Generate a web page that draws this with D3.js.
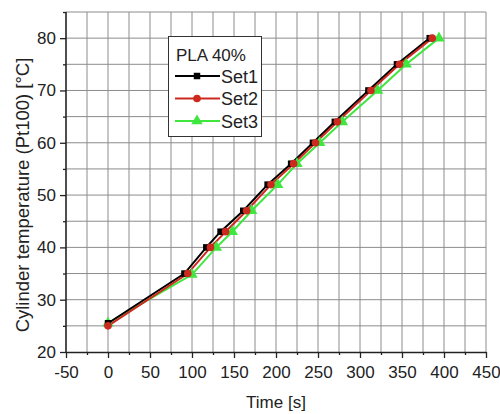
<!DOCTYPE html>
<html><head><meta charset="utf-8">
<script src="https://cdn.jsdelivr.net/npm/d3@7/dist/d3.min.js"></script>
<style>html,body{margin:0;padding:0;background:#fff;}svg{display:block;font-family:"Liberation Sans",Arial,sans-serif;}</style>
</head><body><div id="chart"></div>
<script>
const set1Time = [0, 91, 117, 134, 161, 190, 218, 244, 270, 310, 344, 383];
const set1Temp = [25.5, 35, 40, 43, 47, 52, 56, 60, 64, 70, 75, 80];
const set2Time = [0, 95, 122, 140, 165, 194, 221, 247, 273, 313, 347, 386];
const set2Temp = [25, 35, 40, 43, 47, 52, 56, 60, 64, 70, 75, 80];
const set3Time = [0, 100, 129, 148, 171, 202, 225, 252, 279, 321, 355, 394];
const set3Temp = [25.5, 34.8, 40, 43, 47, 52, 56, 60, 64, 70, 75, 80];
const xTicks = [-50, 0, 50, 100, 150, 200, 250, 300, 350, 400, 450];
const yTicks = [20, 30, 40, 50, 60, 70, 80];
const legendTitle = "PLA 40%";
const seriesNames = ["Set1", "Set2", "Set3"];

const W = 500, H = 414;
const m = {left: 66, right: 14, top: 12, bottom: 62};
const svg = d3.select("#chart").append("svg").attr("width", W).attr("height", H);
const x = d3.scaleLinear().domain([-50, 450]).range([m.left, W - m.right]);
const y = d3.scaleLinear().domain([20, 85]).range([H - m.bottom, m.top]);

// grid
const xGrid = d3.range(-50, 451, 25);
const yGrid = d3.range(20, 86, 5);
svg.append("g").selectAll("line").data(xGrid.slice(1)).join("line")
  .attr("x1", d => x(d)).attr("x2", d => x(d)).attr("y1", y(85)).attr("y2", y(20))
  .attr("stroke", "#8c8c8c").attr("stroke-width", 1);
svg.append("g").selectAll("line").data(yGrid.slice(1)).join("line")
  .attr("x1", x(-50)).attr("x2", x(450)).attr("y1", d => y(d)).attr("y2", d => y(d))
  .attr("stroke", "#8c8c8c").attr("stroke-width", 1);

const fmt = d => String(d);
// axes
const xAxis = svg.append("g").attr("transform", `translate(0,${y(20)})`)
  .call(d3.axisBottom(x).tickValues(xTicks).tickFormat(fmt).tickSize(6).tickSizeOuter(0));
const xMinor = svg.append("g").attr("transform", `translate(0,${y(20)})`)
  .call(d3.axisBottom(x).tickValues(xGrid.filter(d => d % 50 !== 0)).tickFormat("").tickSize(3).tickSizeOuter(0));
xMinor.select(".domain").remove();
const yAxis = svg.append("g").attr("transform", `translate(${x(-50)},0)`)
  .call(d3.axisLeft(y).tickValues(yTicks).tickFormat(fmt).tickSize(6).tickSizeOuter(0));
const yMinor = svg.append("g").attr("transform", `translate(${x(-50)},0)`)
  .call(d3.axisLeft(y).tickValues(yGrid.filter(d => d % 10 !== 0)).tickFormat("").tickSize(3).tickSizeOuter(0));
yMinor.select(".domain").remove();
yAxis.select(".domain").attr("d", `M0,${y(85)}V${y(20)}`);
[xAxis, yAxis, xMinor, yMinor].forEach(g => {
  g.selectAll(".domain").attr("stroke", "#222").attr("stroke-width", 1.6);
  g.selectAll(".tick line").attr("stroke", "#222").attr("stroke-width", 1.3);
  g.selectAll("text").attr("font-size", 17).attr("fill", "#222").attr("font-family", "Liberation Sans, Arial, sans-serif");
});
xAxis.selectAll("text").attr("y", 9).attr("dy", "1em");
yAxis.selectAll("text").attr("x", -10);

svg.append("text").attr("x", (x(-50) + x(450)) / 2).attr("y", 408).attr("text-anchor", "middle")
  .attr("font-size", 17).attr("fill", "#222").text("Time [s]");
svg.append("text").attr("transform", `translate(29,195) rotate(-90)`)
  .attr("text-anchor", "middle").attr("font-size", 18.5).attr("fill", "#222")
  .text("Cylinder temperature (Pt100) [°C]");

const series = [
  {name: seriesNames[2], t: set3Time, v: set3Temp, color: "#3ee63e", shape: d3.symbolTriangle, size: 56},
  {name: seriesNames[0], t: set1Time, v: set1Temp, color: "#000000", shape: d3.symbolSquare, size: 42},
  {name: seriesNames[1], t: set2Time, v: set2Temp, color: "#cc2a1e", shape: d3.symbolCircle, size: 46}
];
const line = d3.line().x(d => x(d[0])).y(d => y(d[1]));
series.forEach(s => {
  const pts = s.t.map((t, i) => [t, s.v[i]]);
  svg.append("path").datum(pts).attr("d", line).attr("fill", "none").attr("stroke", s.color).attr("stroke-width", 2);
});
series.forEach(s => {
  const pts = s.t.map((t, i) => [t, s.v[i]]);
  svg.append("g").selectAll("path").data(pts).join("path")
    .attr("transform", d => `translate(${x(d[0])},${y(d[1])})`)
    .attr("d", d3.symbol().type(s.shape).size(s.size)).attr("fill", s.color);
});

// legend
const lg = svg.append("g");
lg.append("rect").attr("x", 168.5).attr("y", 36.5).attr("width", 93).attr("height", 100)
  .attr("fill", "#fff").attr("stroke", "#333").attr("stroke-width", 1);
lg.append("text").attr("x", 176).attr("y", 61).attr("font-size", 17).attr("fill", "#222").text(legendTitle);
const legOrder = [series[1], series[2], series[0]];
legOrder.forEach((s, i) => {
  const cy = 76 + i * 22.5;
  lg.append("line").attr("x1", 175).attr("x2", 220).attr("y1", cy).attr("y2", cy)
    .attr("stroke", s.color).attr("stroke-width", 2);
  lg.append("path").attr("transform", `translate(197,${cy})`)
    .attr("d", d3.symbol().type(s.shape).size(s.size)).attr("fill", s.color);
  lg.append("text").attr("x", 221).attr("y", cy + 6.5).attr("font-size", 18).attr("fill", "#222").text(s.name);
});
</script></body></html>
